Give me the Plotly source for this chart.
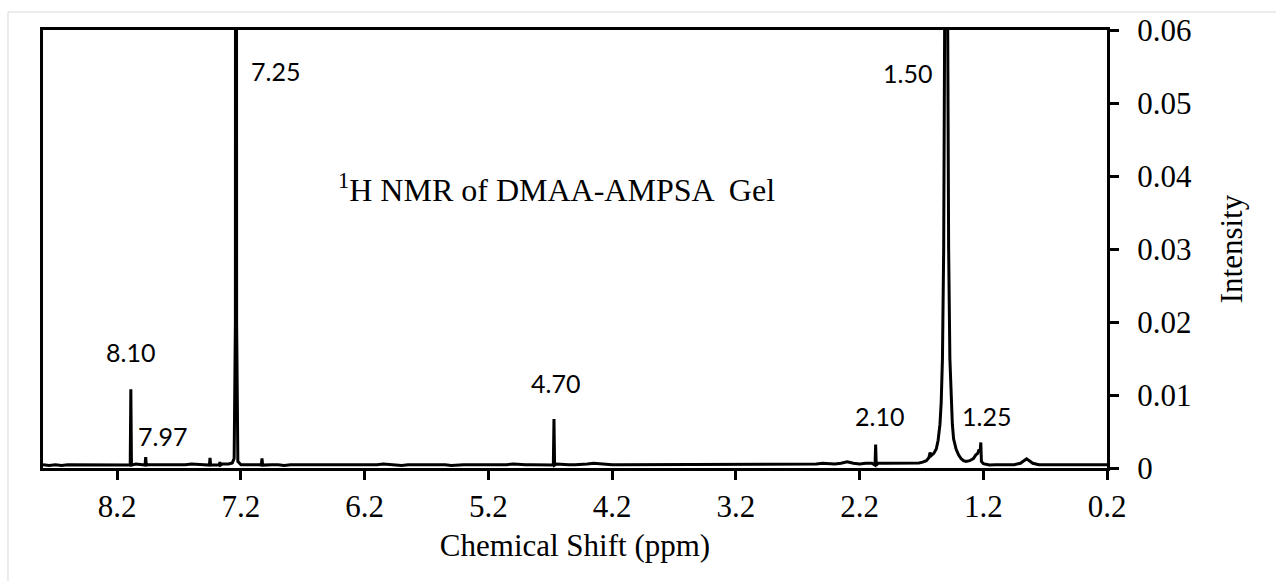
import numpy as np
import plotly.graph_objects as go

# ---- data (intensity in units of 1e-4) ----
# baseline segment A: 8.80 -> 1.75 ppm, every 0.05 ppm
base_a_start, base_a_stop = 8.80, 1.75
base_a = [3, 2, 3, 2, 3, 3, 2, 3, 2, 3,
          3, 3, 2, 3, 3, 4, 3, 3, 3, 3,
          3, 2, 3, 3, 4, 3, 3, 4, 3, 4,
          4, 5, 3, 3, 4, 3, 3, 3, 3, 2,
          3, 3, 2, 3, 3, 2, 3, 3, 2, 3,
          3, 2, 3, 3, 3, 4, 3, 3, 2, 3,
          3, 3, 4, 3, 3, 3, 2, 3, 3, 3,
          3, 2, 3, 3, 3, 3, 4, 3, 3, 3,
          3, 3, 3, 4, 3, 3, 3, 3, 4, 5,
          4, 3, 3, 3, 3, 3, 3, 4, 3, 3,
          3, 4, 3, 3, 4, 3, 3, 4, 4, 3,
          4, 3, 4, 4, 3, 4, 4, 3, 4, 3,
          4, 4, 3, 4, 4, 4, 5, 4, 4, 5,
          7, 5, 4, 5, 5, 5, 5, 5, 6, 5,
          6, 6]
# baseline segment B: 1.10 -> 0.20 ppm, every 0.05 ppm
base_b_start, base_b_stop = 1.10, 0.20
base_b = [3, 3, 3, 3, 5, 11, 5, 3, 3, 3, 2, 3, 3, 2, 3, 3, 2, 3, 3]
baseline_offset = 1.5

# broad methyl cluster (1.50 and 1.25 peaks)
cluster_ppm = [1.72, 1.69, 1.66, 1.64, 1.63, 1.62, 1.60, 1.58, 1.565, 1.55, 1.54, 1.53,
               1.52, 1.51, 1.50, 1.49, 1.48, 1.47, 1.46, 1.45, 1.44, 1.42, 1.40, 1.38,
               1.36, 1.34, 1.31, 1.28, 1.26, 1.245, 1.235, 1.225, 1.22, 1.215, 1.20,
               1.17, 1.15]
cluster_int = [7, 8, 10, 14, 21, 17, 20, 26, 38, 60, 90, 150,
               300, 700, 3000, 700, 300, 150, 90, 60, 40, 26, 18, 13,
               10, 9, 10, 13, 18, 20, 25, 23, 35, 9, 6,
               5, 4]

# CHCl3 solvent line region
solvent_ppm = [7.27, 7.255, 7.245, 7.24, 7.235, 7.225]
solvent_int = [7, 13, 200, 3000, 200, 9]

# sharp singlets
sharp_ppm = [8.09, 7.97, 7.45, 7.37, 7.03, 4.67, 2.07]
sharp_int = [108, 15, 14, 8, 13, 67, 32]

# peak labels
label_text = ["8.10", "7.97", "7.25", "4.70", "2.10", "1.50", "1.25"]
label_ppm = [8.09, 7.835, 6.92, 4.66, 2.035, 1.81, 1.175]
label_int = [159, 44, 544, 116, 71, 541, 71]

x_ticks = [8.2, 7.2, 6.2, 5.2, 4.2, 3.2, 2.2, 1.2, 0.2]
x_ticktext = ["8.2", "7.2", "6.2", "5.2", "4.2", "3.2", "2.2", "1.2", "0.2"]
y_ticks = [0, 0.01, 0.02, 0.03, 0.04, 0.05, 0.06]
y_ticktext = ["0", "0.01", "0.02", "0.03", "0.04", "0.05", "0.06"]

# ---- assemble spectrum ----
solvent_pts = list(zip(solvent_ppm, solvent_int))
grid_a = np.round(np.linspace(base_a_start, base_a_stop, len(base_a)), 3)
grid_b = np.round(np.linspace(base_b_start, base_b_stop, len(base_b)), 3)
pts = [(p, v + baseline_offset) for p, v in zip(grid_a, base_a)]
pts += [(p, v + baseline_offset) for p, v in zip(grid_b, base_b)]
pts = [q for q in pts if not (7.22 < q[0] < 7.275)]
pts += list(zip(cluster_ppm, cluster_int))
pts += solvent_pts
for p, h in zip(sharp_ppm, sharp_int):
    pts = [q for q in pts if abs(q[0] - p) > 0.006]
    pts += [(p + 0.005, 4), (p, h), (p - 0.005, 4)]
pts.sort(key=lambda q: -q[0])
ppm = [q[0] for q in pts]
inten = [q[1] * 1e-4 for q in pts]

fig = go.Figure()
fig.add_trace(go.Scatter(x=ppm, y=inten, mode="lines",
                         line=dict(color="black", width=3), showlegend=False))

for t, px, py in zip(label_text, label_ppm, label_int):
    fig.add_annotation(x=px, y=py * 1e-4, text=t, showarrow=False,
                       font=dict(family="Lato", size=25, color="black"))

fig.add_annotation(xref="paper", yref="paper", x=0.483, y=0.64,
                   text="<sup>1</sup>H NMR of DMAA-AMPSA  Gel", showarrow=False,
                   font=dict(family="Liberation Serif", size=32, color="black"))

fig.add_shape(type="rect", xref="paper", yref="paper",
              x0=-0.0329, x1=2, y0=-1, y1=1.0411,
              line=dict(color="#d9d9d9", width=1), layer="below")

serif = dict(family="Liberation Serif", size=31, color="black")
fig.update_layout(
    width=1276, height=581,
    margin=dict(l=43, r=169, t=30, b=113),
    paper_bgcolor="white", plot_bgcolor="white",
    font=serif,
    xaxis=dict(range=[8.8, 0.2], tickvals=x_ticks, ticktext=x_ticktext,
               showgrid=False, zeroline=False, showline=True, mirror=True,
               linecolor="black", linewidth=3, ticks="outside", ticklen=9,
               tickwidth=3, tickcolor="black", tickfont=serif,
               title=dict(text="Chemical Shift (ppm)", font=serif, standoff=12)),
    yaxis=dict(range=[0, 0.06], side="right", tickvals=y_ticks, ticktext=y_ticktext,
               showgrid=False, zeroline=False, showline=True, mirror=True,
               linecolor="black", linewidth=3, ticks="outside", ticklen=9,
               tickwidth=3, tickcolor="black", tickfont=serif,
               ticklabelstandoff=12,
               title=dict(text="Intensity", font=serif, standoff=30)),
)

fig.write_html("out.html")
